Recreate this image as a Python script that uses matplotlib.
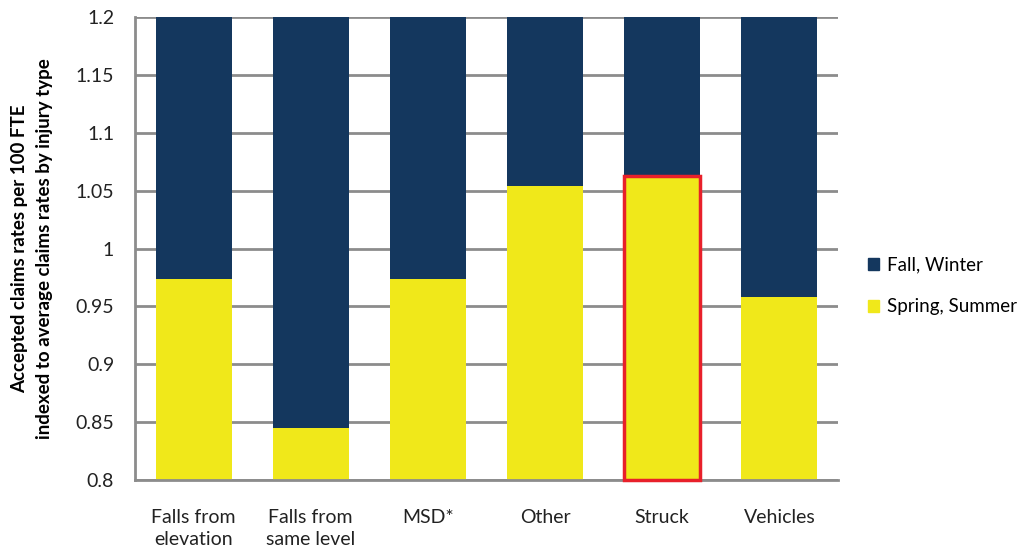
import numpy as np
import matplotlib.pyplot as plt
from matplotlib.patches import Patch

# Datos
categories = ['Falls from\nelevation', 'Falls from\nsame level', 'MSD*', 'Other', 'Struck', 'Vehicles']
spring_summer = [0.974, 0.845, 0.974, 1.054, 1.063, 0.958]
fall_winter = [1.026, 1.155, 1.026, 0.946, 0.937, 1.042]

navy = '#14375e'
yellow = '#f0e81a'
grey = '#8c8c8c'

plt.rcParams['font.family'] = ['Lato', 'DejaVu Sans']

fig = plt.figure(figsize=(10.34, 5.55), dpi=100)
ax = fig.add_axes([135/1034, 1 - 480/555, (838-135)/1034, (480-17)/555])

x = np.arange(len(categories))
w = 0.65
bars_ss = ax.bar(x, spring_summer, width=w, color=yellow, zorder=2)
ax.bar(x, fall_winter, width=w, bottom=spring_summer, color=navy, zorder=2)

# Resaltar "Struck"
i = categories.index('Struck')
b = bars_ss[i]
ax.add_patch(plt.Rectangle((b.get_x(), 0.8), b.get_width(), spring_summer[i] - 0.8,
                           fill=False, edgecolor='#e8202a', lw=2.5, zorder=3, clip_on=False))

ax.set_ylim(0.8, 1.2)
ax.set_xlim(-0.5, len(categories) - 0.5)
ax.set_yticks(np.arange(0.8, 1.201, 0.05))
ax.set_yticklabels(['0.8', '0.85', '0.9', '0.95', '1', '1.05', '1.1', '1.15', '1.2'])
ax.yaxis.grid(True, color=grey, lw=2, zorder=0)
ax.set_axisbelow(True)
ax.set_xticks(x)
ax.set_xticklabels(categories, linespacing=1.35)
ax.tick_params(axis='both', length=0, labelsize=14, colors='#222222')
ax.tick_params(axis='x', pad=21)
ax.tick_params(axis='y', pad=15)
for s in ['top', 'right']:
    ax.spines[s].set_visible(False)
for s in ['left', 'bottom']:
    ax.spines[s].set_color(grey)
    ax.spines[s].set_linewidth(2)

ax.set_ylabel('Accepted claims rates per 100 FTE\nindexed to average claims rates by injury type',
              fontsize=13.5, fontweight='bold', labelpad=16, linespacing=1.6)

handles = [Patch(color=navy, label='Fall, Winter'), Patch(color=yellow, label='Spring, Summer')]
fig.legend(handles=handles, loc='center left', bbox_to_anchor=(868/1034, 1 - 286/555),
           frameon=False, fontsize=13.5, handlelength=0.6, handleheight=0.6,
           handletextpad=0.4, labelspacing=1.3, borderaxespad=0, borderpad=0)

plt.savefig('out.png', dpi=100)
